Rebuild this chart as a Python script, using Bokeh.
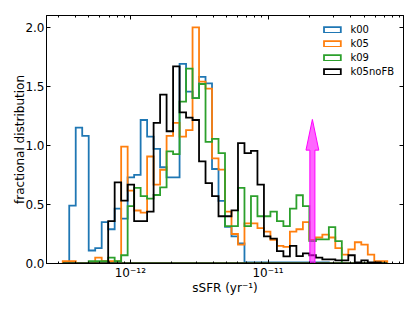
import numpy as np
from bokeh.plotting import figure
from bokeh.models import (FixedTicker, LogAxis, LinearAxis, PrintfTickFormatter,
                          Legend, LegendItem, Range1d, CustomJSTickFormatter)
from bokeh.embed import file_html
from bokeh.resources import INLINE

# ---- data -------------------------------------------------------------
log_lo, log_hi, n_bins = -12.491, -10.134, 50   # histogram bins (log10 sSFR)

k00 = [0.00, 0.49, 1.15, 1.08, 0.11, 0.13, 0.35, 0.29, 0.465, 0.38,
       0.73, 0.75, 1.215, 1.075, 0.97, 0.815, 0.73, 0.73, 1.69, 1.455,
       1.40, 1.58, 1.525, 0.80, 0.53, 0.31, 0.23, 0.17, 0.01, 0.01,
       0.01, 0.01, 0.01, 0.01, 0.01, 0.01, 0.01, 0.01, 0.01, 0.01,
       0.01, 0.0, 0.0, 0.0, 0.0, 0.0, 0.0, 0.0, 0.0, 0.0]
k05 = [0.02, 0.02, 0.00, 0.00, 0.00, 0.05, 0.02, 0.02, 0.02, 0.99,
       0.617, 0.449, 0.43, 0.906, 0.668, 0.794, 1.08, 1.19, 1.075, 1.13,
       2.00, 1.54, 1.48, 0.89, 0.795, 0.44, 0.25, 0.16, 0.34, 0.34,
       0.30, 0.27, 0.20, 0.15, 0.14, 0.27, 0.29, 0.35, 0.20, 0.22,
       0.245, 0.22, 0.13, 0.075, 0.12, 0.18, 0.16, 0.075, 0.02, 0.02]
k09 = [0.00, 0.00, 0.00, 0.00, 0.02, 0.02, 0.02, 0.05, 0.02, 0.07,
       0.485, 0.64, 0.57, 0.55, 0.58, 0.645, 0.95, 0.926, 1.37, 1.65,
       1.40, 1.52, 1.03, 1.055, 0.934, 0.316, 0.316, 0.64, 0.316, 0.57,
       0.40, 0.40, 0.44, 0.358, 0.316, 0.465, 0.578, 0.485, 0.19, 0.204,
       0.204, 0.308, 0.19, 0.0, 0.0, 0.0, 0.0, 0.0, 0.0, 0.0]
k05noFB = [0.00, 0.00, 0.00, 0.00, 0.00, 0.00, 0.00, 0.358, 0.687, 0.533,
           0.668, 0.358, 0.358, 0.44, 1.19, 1.43, 1.12, 1.67, 1.28, 1.235,
           1.215, 0.864, 0.68, 0.57, 0.40, 0.40, 0.45, 1.02, 0.934, 0.954,
           0.668, 0.23, 0.21, 0.105, 0.06, 0.15, 0.063, 0.085, 0.07, 0.05,
           0.035, 0.035, 0.027, 0.027, 0.07, 0.01, 0.027, 0.01, 0.01, 0.0]

series_names = ["k00", "k05", "k09", "k05noFB"]
series_vals = [k00, k05, k09, k05noFB]
series_colors = ["#1f77b4", "#ff7f0e", "#2ca02c", "#000000"]

arrow_x = 2.1e-11      # sSFR position of the arrow
arrow_head_base = 0.96
arrow_tip = 1.22

x_lo, x_hi = 10 ** -12.609, 10 ** -10.016
y_lo, y_hi = 0.0, 2.1
x_major = [1e-12, 1e-11]
x_minor = [m * 10.0 ** e for e in (-13, -12, -11) for m in range(2, 10)]
y_major = [0.0, 0.5, 1.0, 1.5, 2.0]

FONT = "DejaVu Sans"

# ---- figure -------------------------------------------------------------
p = figure(width=409, height=303, x_axis_type="log",
           x_range=Range1d(x_lo, x_hi), y_range=Range1d(y_lo, y_hi),
           output_backend="svg", toolbar_location=None,
           min_border_left=46, min_border_right=6, min_border_top=15,
           min_border_bottom=40)
p.grid.visible = False
p.outline_line_color = "black"
p.outline_line_width = 1
p.background_fill_color = "white"
p.border_fill_color = "white"

sup = CustomJSTickFormatter(code="""
const m = {'-':'\u207b','0':'\u2070','1':'\u00b9','2':'\u00b2','3':'\u00b3','4':'\u2074',
           '5':'\u2075','6':'\u2076','7':'\u2077','8':'\u2078','9':'\u2079'};
const e = Math.round(Math.log10(tick));
return '10' + String(e).split('').map(c => m[c]).join('');
""")
blank = CustomJSTickFormatter(code="return '';")

def style_axis(ax, labels=True):
    ax.major_tick_in = 4
    ax.major_tick_out = 0
    ax.minor_tick_in = 2
    ax.minor_tick_out = 0
    ax.axis_line_color = "black"
    ax.major_tick_line_color = "black"
    ax.minor_tick_line_color = "black"
    ax.major_label_text_font = FONT
    ax.major_label_text_color = "black"
    ax.major_label_text_font_size = "12px" if labels else "1px"
    ax.major_label_standoff = 2 if labels else 0
    ax.axis_label_text_font = FONT
    ax.axis_label_text_color = "black"
    ax.axis_label_text_font_size = "12px"
    ax.axis_label_text_font_style = "normal"
    ax.axis_label_standoff = 2
    if not labels:
        ax.formatter = blank

xb = p.xaxis[0]
xb.ticker = FixedTicker(ticks=x_major, minor_ticks=x_minor)
xb.formatter = sup
xb.axis_label = "sSFR (yr\u207b\u00b9)"
style_axis(xb)
xb.axis_label_standoff = -2

yl = p.yaxis[0]
yl.ticker = FixedTicker(ticks=y_major)
yl.formatter = PrintfTickFormatter(format="%.1f")
yl.axis_label = "fractional distribution"
style_axis(yl)
yl.axis_label_standoff = -5
yl.minor_tick_line_color = None

xt = LogAxis(ticker=FixedTicker(ticks=x_major, minor_ticks=x_minor))
style_axis(xt, labels=False)
p.add_layout(xt, "above")
yr = LinearAxis(ticker=FixedTicker(ticks=y_major))
style_axis(yr, labels=False)
yr.minor_tick_line_color = None
p.add_layout(yr, "right")

# ---- histograms (step outlines) ----------------------------------------
edges = 10 ** np.linspace(log_lo, log_hi, n_bins + 1)
items = []
for name, vals, col in zip(series_names, series_vals, series_colors):
    xs = [edges[0]]
    ys = [0.0]
    for i, v in enumerate(vals):
        xs += [edges[i], edges[i + 1]]
        ys += [v, v]
    xs.append(edges[-1])
    ys.append(0.0)
    r = p.patch(xs, ys, fill_color="white", fill_alpha=0.0,
                line_color=col, line_width=1.8, line_join="miter")
    items.append(LegendItem(label=name, renderers=[r]))

# ---- arrow --------------------------------------------------------------
sw, hw = 0.0184, 0.0465   # half widths in dex
ax_ = [arrow_x * 10 ** -sw, arrow_x * 10 ** sw, arrow_x * 10 ** sw, arrow_x * 10 ** hw,
       arrow_x, arrow_x * 10 ** -hw, arrow_x * 10 ** -sw]
ay_ = [0, 0, arrow_head_base, arrow_head_base, arrow_tip, arrow_head_base, arrow_head_base]
p.patch(ax_, ay_, fill_color="magenta", fill_alpha=0.6, line_color="magenta", line_width=1)

legend = Legend(items=items, location="top_right")
legend.label_text_font = FONT
legend.label_text_color = "black"
legend.label_text_font_size = "10px"
legend.glyph_width = 21
legend.glyph_height = 7
legend.label_height = 10
legend.label_standoff = 8
legend.spacing = 3
legend.padding = 10
legend.margin = 9
legend.border_line_color = None
legend.background_fill_alpha = 0
p.add_layout(legend)

open("out.html", "w").write(file_html(p, INLINE))
